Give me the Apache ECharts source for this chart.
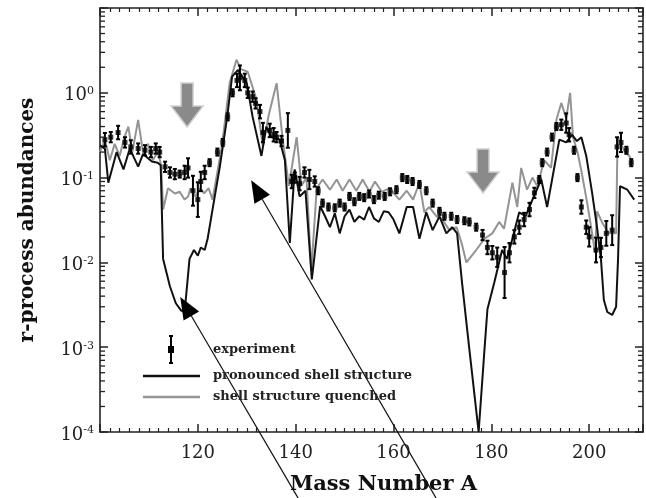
<!DOCTYPE html>
<html>
<head>
<meta charset="utf-8">
<title>r-process abundances</title>
<script src="https://cdn.jsdelivr.net/npm/echarts@6/dist/echarts.min.js"></script>
<style>
html, body { margin: 0; padding: 0; background: #fff; }
#chart { width: 646px; height: 498px; }
</style>
</head>
<body>
<div id="chart"></div>
<script>
// values (mass number A, abundance)
var pronMass = [100, 101, 101.7, 103.4, 104.8, 106.1, 107.8, 108.8, 110.6, 111.8, 112.4, 112.9, 114.3, 115.5, 116.6, 117.3, 118.3, 119.2, 120, 120.6, 121.4, 122, 123, 124.5, 126, 127, 128.2, 130, 131.2, 133, 134, 135, 136.7, 137.8, 138.8, 139.8, 140.8, 142, 143.3, 145, 146, 147, 148, 149, 150, 151, 152, 153, 154, 155, 156, 157, 158, 159, 160, 161.2, 162.7, 164, 165.3, 166.7, 168, 169.4, 170.8, 172, 173, 174, 175.5, 177.4, 178.6, 179.2, 180.6, 182.2, 183.2, 184.3, 185.7, 187, 188.4, 190.2, 191.4, 192.9, 193.9, 195.3, 196.5, 197.5, 198.4, 199.4, 200.6, 201.6, 202.4, 203, 203.7, 204.7, 205.5, 205.9, 206.3, 206.7, 207.8, 209.2];
var pronAbund = [0.24, 0.22, 0.087, 0.2, 0.125, 0.22, 0.135, 0.19, 0.155, 0.15, 0.14, 0.011, 0.0052, 0.0033, 0.0027, 0.0026, 0.011, 0.014, 0.012, 0.015, 0.014, 0.019, 0.042, 0.135, 0.52, 1.55, 1.86, 1.3, 0.52, 0.18, 0.4, 0.3, 0.28, 0.16, 0.017, 0.125, 0.06, 0.07, 0.0063, 0.046, 0.035, 0.026, 0.038, 0.022, 0.035, 0.042, 0.03, 0.035, 0.032, 0.045, 0.033, 0.03, 0.04, 0.039, 0.032, 0.022, 0.045, 0.045, 0.019, 0.039, 0.024, 0.035, 0.022, 0.026, 0.022, 0.0058, 0.00095, 0.0001, 0.00095, 0.0028, 0.0058, 0.014, 0.011, 0.019, 0.039, 0.035, 0.055, 0.095, 0.045, 0.135, 0.28, 0.26, 0.32, 0.27, 0.3, 0.18, 0.066, 0.026, 0.011, 0.0036, 0.0026, 0.0024, 0.003, 0.011, 0.079, 0.083, 0.072, 0.055];

var quenMass = [100, 101, 102, 103, 104, 105, 105.8, 106.6, 107.8, 108.8, 109.8, 110.8, 111.8, 112.5, 112.9, 113.9, 115.3, 116.3, 117.3, 118, 118.5, 119.5, 120.5, 121.3, 122.2, 123, 124.9, 126.5, 127.9, 128.8, 130.2, 132, 133.3, 134.5, 136.1, 137.3, 138.6, 140.2, 141.2, 142.2, 143.2, 144.3, 145.5, 147, 148.4, 149.6, 151, 152.4, 153.7, 155.1, 156.2, 157.6, 159.2, 160.4, 161.2, 162.7, 164, 165.3, 166.3, 167.3, 168.8, 170, 171.4, 172.9, 173.9, 174.9, 176.9, 178.6, 180.2, 181.6, 182.6, 184.3, 185.3, 186.1, 187.3, 188.4, 189.4, 190.8, 192.2, 193.3, 194.3, 195.3, 196.1, 196.7, 197.6, 198.4, 199.6, 200.4, 201.2, 201.6, 202.6, 204, 205.5, 205.8, 206.2, 207.1, 208.2, 208.8];
var quenAbund = [0.2, 0.28, 0.16, 0.25, 0.18, 0.3, 0.4, 0.2, 0.48, 0.2, 0.25, 0.16, 0.2, 0.14, 0.042, 0.075, 0.065, 0.068, 0.055, 0.06, 0.075, 0.06, 0.075, 0.065, 0.075, 0.055, 0.23, 1.3, 2.45, 1.9, 1.77, 0.83, 0.23, 0.55, 1.3, 0.3, 0.08, 0.3, 0.08, 0.1, 0.008, 0.075, 0.095, 0.072, 0.095, 0.07, 0.095, 0.07, 0.095, 0.068, 0.09, 0.068, 0.075, 0.062, 0.055, 0.07, 0.055, 0.087, 0.039, 0.045, 0.035, 0.032, 0.024, 0.026, 0.017, 0.01, 0.014, 0.019, 0.022, 0.03, 0.025, 0.087, 0.045, 0.13, 0.072, 0.1, 0.079, 0.16, 0.13, 0.48, 0.76, 0.5, 1.0, 0.3, 0.2, 0.12, 0.05, 0.026, 0.013, 0.04, 0.03, 0.022, 0.022, 0.3, 0.28, 0.21, 0.18, 0.15];

var expMass = [101, 102.2, 103.7, 105.1, 106.3, 107.8, 109.2, 110.4, 111.4, 112.2, 113.3, 114.3, 115.3, 116.3, 117.3, 118, 119, 120, 120.6, 121.4, 122.4, 124, 125.1, 126.1, 127.1, 128, 128.6, 129.6, 130.2, 131.2, 131.8, 132.7, 133.3, 134.7, 135.5, 136.1, 137.1, 138.4, 139.2, 139.8, 140.8, 141.8, 142.8, 143.9, 144.6, 145.5, 146.7, 148, 149, 150, 151, 152, 153, 154, 155, 156, 157, 158.2, 159.3, 160.6, 161.8, 162.8, 163.9, 165.3, 166.7, 168, 169.4, 170.4, 171.8, 173, 174.5, 175.5, 176.9, 178.2, 179.2, 180.2, 181.2, 182.7, 183.7, 184.7, 185.7, 186.7, 187.8, 188.8, 189.8, 190.4, 191.4, 192.4, 193.3, 194.3, 195.3, 195.9, 196.9, 197.6, 198.4, 199.4, 200, 201.4, 202.4, 203.5, 204.7, 205.7, 206.5, 207.6, 208.6];
var expAbund = [0.28, 0.3, 0.34, 0.26, 0.23, 0.22, 0.21, 0.2, 0.22, 0.2, 0.134, 0.115, 0.11, 0.11, 0.115, 0.13, 0.07, 0.055, 0.09, 0.115, 0.15, 0.2, 0.26, 0.52, 1.0, 1.4, 1.5, 1.4, 1.0, 0.9, 0.75, 0.6, 0.34, 0.36, 0.32, 0.3, 0.27, 0.36, 0.09, 0.1, 0.085, 0.115, 0.095, 0.09, 0.07, 0.05, 0.045, 0.044, 0.05, 0.045, 0.06, 0.052, 0.06, 0.058, 0.064, 0.055, 0.062, 0.06, 0.068, 0.072, 0.1, 0.095, 0.09, 0.083, 0.07, 0.05, 0.04, 0.035, 0.035, 0.032, 0.031, 0.03, 0.026, 0.021, 0.015, 0.013, 0.0115, 0.0076, 0.013, 0.02, 0.026, 0.032, 0.042, 0.066, 0.095, 0.15, 0.2, 0.3, 0.4, 0.42, 0.44, 0.32, 0.21, 0.1, 0.045, 0.026, 0.02, 0.014, 0.015, 0.022, 0.024, 0.23, 0.26, 0.21, 0.15];
// error bar half-width as a multiplicative factor
var expErr = [1.2, 1.15, 1.2, 1.15, 1.2, 1.15, 1.15, 1.15, 1.15, 1.15, 1.15, 1.15, 1.15, 1.1, 1.2, 1.3, 1.5, 1.6, 1.3, 1.2, 1.1, 1.1, 1.1, 1.1, 1.1, 1.2, 1.4, 1.2, 1.15, 1.15, 1.15, 1.2, 1.3, 1.2, 1.2, 1.15, 1.15, 1.6, 1.2, 1.15, 1.2, 1.15, 1.3, 1.15, 1.1, 1.1, 1.1, 1.1, 1.1, 1.1, 1.1, 1.1, 1.1, 1.1, 1.1, 1.1, 1.1, 1.1, 1.1, 1.1, 1.1, 1.1, 1.1, 1.1, 1.1, 1.1, 1.1, 1.1, 1.1, 1.1, 1.1, 1.1, 1.1, 1.15, 1.2, 1.2, 1.3, 2.0, 1.3, 1.2, 1.2, 1.2, 1.2, 1.15, 1.1, 1.1, 1.1, 1.1, 1.1, 1.15, 1.3, 1.2, 1.1, 1.1, 1.2, 1.2, 1.3, 1.4, 1.3, 1.4, 1.5, 1.3, 1.3, 1.1, 1.1];

var xLabels = [120, 140, 160, 180, 200];
var decades = [1e-4, 1e-3, 1e-2, 1e-1, 1e0, 1e1];

// annotation anchors in data space
var downArrowTips = [[117.8, 0.395], [178.3, 0.066]];
var pointerTips = [[116.4, 0.0039], [130.9, 0.093]];
var pointerTails = [[140.5, 1.66e-5], [168.7, 1.66e-5]];

function zip(a, b) {
    return a.map(function (v, i) { return [v, b[i]]; });
}

var errData = expMass.map(function (a, i) {
    return [a, expAbund[i] / expErr[i], expAbund[i] * expErr[i]];
});

var chart = echarts.init(document.getElementById('chart'), null, { renderer: 'canvas' });

var axisLineStyle = { color: '#222', width: 1.6 };
var majorTick = { show: true, inside: true, length: 8, lineStyle: { color: '#222', width: 1.5 } };
var minorTickX = { show: true, splitNumber: 10, length: 4, lineStyle: { color: '#222', width: 1.2 } };

var option = {
    animation: false,
    backgroundColor: '#fff',
    textStyle: { fontFamily: 'DejaVu Serif' },
    grid: { left: 100, right: 3, top: 8, bottom: 66, outerBoundsMode: 'none', containLabel: false },
    xAxis: [{
        type: 'value', min: 100, max: 211, interval: 20,
        position: 'bottom',
        name: 'Mass Number A', nameLocation: 'middle', nameGap: 42,
        nameTextStyle: { fontSize: 21, fontWeight: 'bold', color: '#111', padding: [0, 0, 0, 24] },
        axisLine: { show: true, lineStyle: axisLineStyle },
        axisTick: majorTick,
        minorTick: minorTickX,
        splitLine: { show: false },
        axisLabel: {
            fontSize: 18, color: '#222', margin: 12,
            formatter: function (v) { return xLabels.indexOf(v) >= 0 ? String(v) : ''; }
        }
    }, {
        type: 'value', min: 100, max: 211, interval: 20,
        position: 'top',
        axisLine: { show: true, lineStyle: axisLineStyle },
        axisTick: majorTick,
        minorTick: minorTickX,
        splitLine: { show: false },
        axisLabel: { show: false }
    }],
    yAxis: [{
        type: 'log', logBase: 10, min: 1e-4, max: 10,
        position: 'left',
        name: 'r-process abundances', nameLocation: 'middle', nameGap: 62,
        nameTextStyle: { fontSize: 20, fontWeight: 'bold', color: '#111' },
        axisLine: { show: true, lineStyle: axisLineStyle },
        axisTick: majorTick,
        splitLine: { show: false },
        axisLabel: {
            margin: 6, color: '#222', padding: [6, 0, 0, 0],
            formatter: function (v) {
                var e = Math.round(Math.log10(v));
                if (e > 0) return '';
                return '{b|10}{s|' + e + '}';
            },
            rich: {
                b: { fontSize: 18, fontFamily: 'DejaVu Serif', color: '#222', lineHeight: 20 },
                s: { fontSize: 11, fontFamily: 'DejaVu Serif', color: '#222', verticalAlign: 'top', lineHeight: 20 }
            }
        }
    }, {
        type: 'log', logBase: 10, min: 1e-4, max: 10,
        position: 'right',
        axisLine: { show: true, lineStyle: axisLineStyle },
        axisTick: majorTick,
        splitLine: { show: false },
        axisLabel: { show: false }
    }],
    series: [{
        name: 'shell structure quenched',
        type: 'line',
        data: zip(quenMass, quenAbund),
        showSymbol: false,
        lineStyle: { color: '#949494', width: 2 },
        z: 2
    }, {
        name: 'pronounced shell structure',
        type: 'line',
        data: zip(pronMass, pronAbund),
        showSymbol: false,
        lineStyle: { color: '#111', width: 2 },
        z: 3
    }, {
        name: 'experiment error',
        type: 'custom',
        data: errData,
        encode: { x: 0, y: [1, 2] },
        z: 4,
        renderItem: function (params, api) {
            var a = api.value(0);
            var p1 = api.coord([a, api.value(1)]);
            var p2 = api.coord([a, api.value(2)]);
            var st = { stroke: '#000', lineWidth: 2 };
            return { type: 'group', children: [
                { type: 'line', shape: { x1: p1[0], y1: p1[1], x2: p2[0], y2: p2[1] }, style: st },
                { type: 'line', shape: { x1: p1[0] - 2, y1: p1[1], x2: p1[0] + 2, y2: p1[1] }, style: st },
                { type: 'line', shape: { x1: p2[0] - 2, y1: p2[1], x2: p2[0] + 2, y2: p2[1] }, style: st }
            ]};
        }
    }, {
        name: 'experiment',
        type: 'scatter',
        data: zip(expMass, expAbund),
        symbol: 'rect',
        symbolSize: 5,
        itemStyle: { color: '#000' },
        z: 5
    }]
};

chart.setOption(option);

var g = [];

// log minor ticks on the left and right frame
var x0 = chart.convertToPixel({ gridIndex: 0 }, [100, 1])[0];
var x1 = chart.convertToPixel({ gridIndex: 0 }, [211, 1])[0];
for (var d = 0; d < decades.length - 1; d++) {
    for (var k = 2; k <= 9; k++) {
        var y = chart.convertToPixel({ gridIndex: 0 }, [100, decades[d] * k])[1];
        g.push({ type: 'line', z: 9, shape: { x1: x0, y1: y, x2: x0 + 5, y2: y }, style: { stroke: '#222', lineWidth: 1.3 } });
        g.push({ type: 'line', z: 9, shape: { x1: x1, y1: y, x2: x1 - 5, y2: y }, style: { stroke: '#222', lineWidth: 1.3 } });
    }
}

// big grey arrows
downArrowTips.forEach(function (t) {
    var p = chart.convertToPixel({ gridIndex: 0 }, t);
    g.push({
        type: 'polygon', z: 10,
        shape: { points: [[p[0], p[1]], [p[0] - 16, p[1] - 21], [p[0] - 6, p[1] - 21], [p[0] - 6, p[1] - 44],
                          [p[0] + 6, p[1] - 44], [p[0] + 6, p[1] - 21], [p[0] + 16, p[1] - 21]] },
        style: { fill: '#8a8a8a', stroke: '#cfcfcf', lineWidth: 1.5 }
    });
});

// thin pointer arrows coming up from below the axis
pointerTips.forEach(function (t, i) {
    var tip = chart.convertToPixel({ gridIndex: 0 }, t);
    var tail = chart.convertToPixel({ gridIndex: 0 }, pointerTails[i]);
    var dx = tip[0] - tail[0], dy = tip[1] - tail[1];
    var len = Math.sqrt(dx * dx + dy * dy);
    var ux = dx / len, uy = dy / len;
    var bx = tip[0] - ux * 22, by = tip[1] - uy * 22;
    g.push({
        type: 'line', z: 11,
        shape: { x1: tail[0], y1: tail[1], x2: bx, y2: by },
        style: { stroke: '#111', lineWidth: 1.2 }
    });
    g.push({
        type: 'polygon', z: 11,
        shape: { points: [[tip[0], tip[1]], [bx - uy * 9, by + ux * 9], [bx + uy * 9, by - ux * 9]] },
        style: { fill: '#000' }
    });
});

// legend
var lgX = 143, lgTextX = 213;
g.push({ type: 'line', z: 12, shape: { x1: 171, y1: 336, x2: 171, y2: 363 }, style: { stroke: '#000', lineWidth: 2 } });
g.push({ type: 'line', z: 12, shape: { x1: 169, y1: 336, x2: 173, y2: 336 }, style: { stroke: '#000', lineWidth: 2 } });
g.push({ type: 'line', z: 12, shape: { x1: 169, y1: 363, x2: 173, y2: 363 }, style: { stroke: '#000', lineWidth: 2 } });
g.push({ type: 'rect', z: 12, shape: { x: 168, y: 346, width: 6, height: 7 }, style: { fill: '#000' } });
g.push({ type: 'line', z: 12, shape: { x1: lgX, y1: 376, x2: 200, y2: 376 }, style: { stroke: '#111', lineWidth: 2.5 } });
g.push({ type: 'line', z: 12, shape: { x1: lgX, y1: 397, x2: 200, y2: 397 }, style: { stroke: '#949494', lineWidth: 2.5 } });
[['experiment', 350], ['pronounced shell structure', 376], ['shell structure quenched', 397]].forEach(function (it) {
    g.push({
        type: 'text', z: 12, x: lgTextX, y: it[1],
        style: { text: it[0], fill: '#222', font: 'bold 13px "DejaVu Serif"', verticalAlign: 'middle', align: 'left' }
    });
});

chart.setOption({ graphic: g });
</script>
</body>
</html>
